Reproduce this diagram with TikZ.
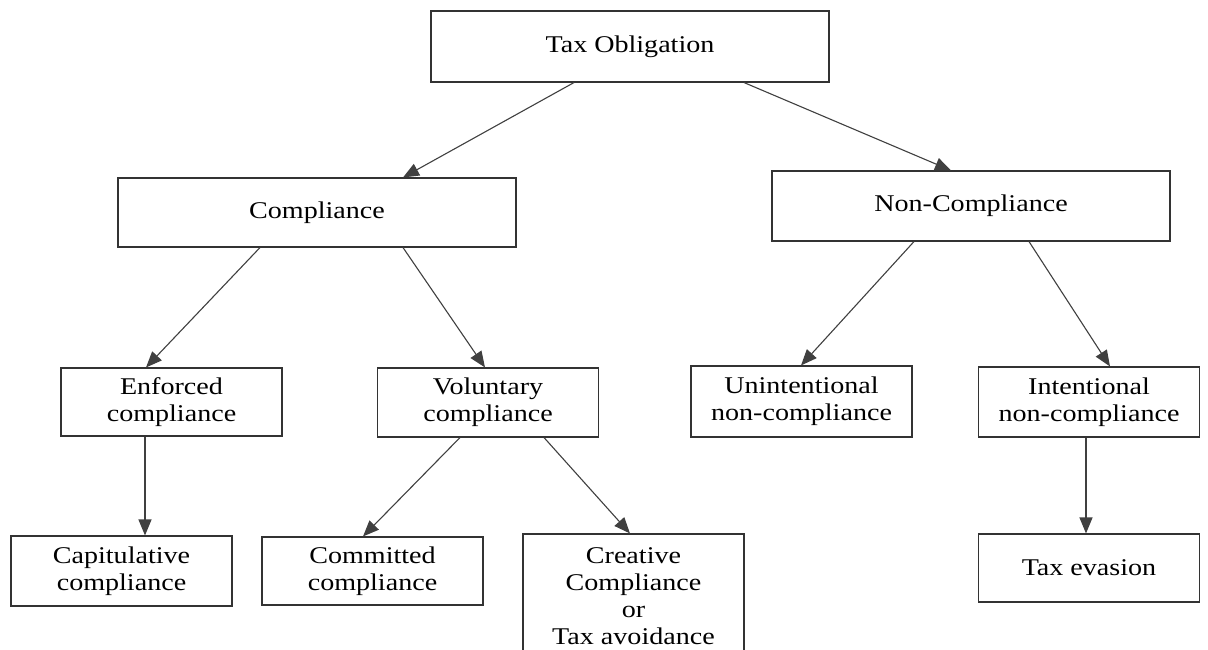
\documentclass[tikz,border=0pt]{standalone}
\usepackage{fontspec}
\setmainfont{Liberation Serif}[FakeStretch=1.17]
\usetikzlibrary{arrows.meta}
\begin{document}
\begin{tikzpicture}[x=1pt,y=-1pt,
  box/.style={draw=black!80, line width=1.1pt, fill=white, inner sep=0pt, align=center, font=\fontsize{24}{27}\selectfont},
  topbox/.style={box, minimum width=398pt},
  lowbox/.style={box, minimum width=221pt},
  arr/.style={draw=black!75, line width=1.1pt, -{Triangle[length=16pt,width=13pt]}}
]
\clip (0,0) rectangle (1208,650);
\fill[white] (0,0) rectangle (1208,650);
% top level
\node[topbox, minimum height=71pt] (tax) at (630,46.5) {Tax Obligation};
\node[topbox, minimum height=69pt] (comp) at (317,212.5) {Compliance};
\node[topbox, minimum height=70pt] (non) at (971,206) {Non-Compliance};
% middle level
\node[lowbox, minimum height=68pt] (enf) at (171.5,402) {Enforced\\compliance};
\node[lowbox, minimum height=69pt] (vol) at (488,402.5) {Voluntary\\compliance};
\node[lowbox, minimum height=71pt] (unint) at (801.5,401.5) {Unintentional\\non-compliance};
\node[lowbox, minimum height=70pt] (inten) at (1089,402) {Intentional\\non-compliance};
% bottom level
\node[lowbox, minimum height=70pt] (cap) at (121.5,571) {Capitulative\\compliance};
\node[lowbox, minimum height=68pt] (comm) at (372.5,571) {Committed\\compliance};
\node[lowbox, minimum height=124pt] (crea) at (633.5,596) {Creative\\Compliance\\or\\Tax avoidance};
\node[lowbox, minimum height=68pt] (evas) at (1089,568) {Tax evasion};
% connectors
\draw[arr] ([xshift=-56pt]tax.south) -- ([xshift=86pt]comp.north);
\draw[arr] ([xshift=114pt]tax.south) -- ([xshift=-20pt]non.north);
\draw[arr] ([xshift=-57pt]comp.south) -- ([xshift=-25.5pt]enf.north);
\draw[arr] ([xshift=86pt]comp.south) -- ([xshift=-3pt]vol.north);
\draw[arr] ([xshift=-57pt]non.south) -- ([xshift=-0.5pt]unint.north);
\draw[arr] ([xshift=58pt]non.south) -- ([xshift=21pt]inten.north);
\draw[arr] ([xshift=-26.5pt]enf.south) -- ([xshift=23.5pt]cap.north);
\draw[arr] ([xshift=-28pt]vol.south) -- ([xshift=-9.5pt]comm.north);
\draw[arr] ([xshift=56pt]vol.south) -- ([xshift=-3.5pt]crea.north);
\draw[arr] ([xshift=-3pt]inten.south) -- ([xshift=-3pt]evas.north);
\end{tikzpicture}
\end{document}
